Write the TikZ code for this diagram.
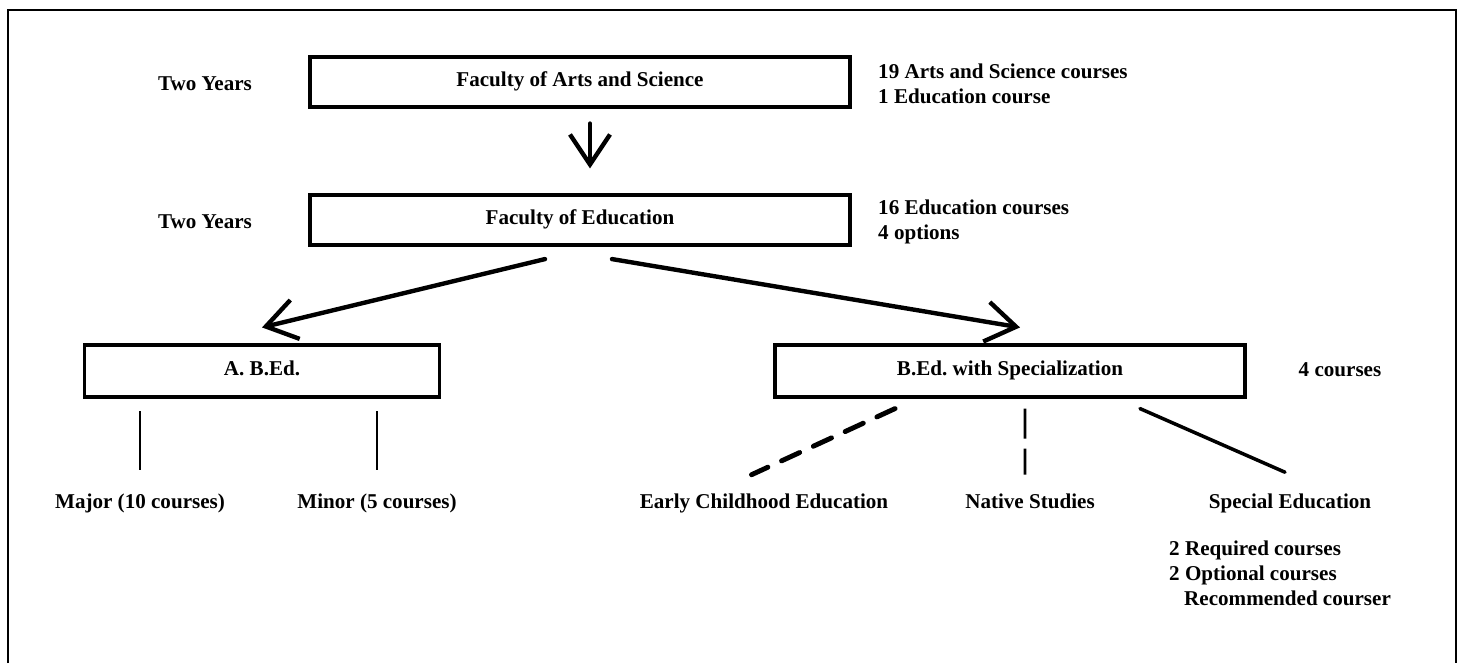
\documentclass[tikz,border=0pt]{standalone}
\usepackage{fontspec}
\setmainfont{Liberation Serif}
\usepackage{tikz}
\usetikzlibrary{positioning}
\usetikzlibrary{arrows.meta}

\tikzset{
    box/.style={draw, rectangle, line width=1.8pt, inner sep=0pt},
    arr/.style={line width=2.5pt, line cap=round, -{Straight Barb[length=0.6cm, width=0.8cm, line width=2.5pt]}},
    ln/.style={line width=1.1pt},
    txt/.style={font=\fontsize{12}{14.2}\selectfont\bfseries},
    lbl/.style={text height=1.55ex, text depth=0.45ex}
}

\begin{document}
\begin{tikzpicture}[x=0.02cm, y=-0.02cm, every node/.style={txt}]
    \useasboundingbox (0,0) rectangle (1463,663);
    \draw[line width=1.4pt] (8,663) -- (8,10) -- (1456,10) -- (1456,663);

    \node (y1) at (205,86) [lbl] {Two Years};
    \node (f1) at (580,82) [box, lbl, minimum width=10.8cm, minimum height=1cm] {Faculty of Arts and Science};
    \node (c1) at (872,84) [anchor=west, align=left] {19 Arts and Science courses\\1 Education course};

    \node (y2) at (205,224) [lbl] {Two Years};
    \node (f2) at (580,220) [box, lbl, minimum width=10.8cm, minimum height=1cm] {Faculty of Education};
    \node (c2) at (872,222) [anchor=west, align=left] {16 Education courses\\4 options};

    \node (a) at (262,371) [box, lbl, minimum width=7.1cm, minimum height=1.04cm] {A. B.Ed.};
    \node (b) at (1010,371) [box, lbl, minimum width=9.4cm, minimum height=1.04cm] {B.Ed.\ with Specialization};
    \node (c3) at (1340,372) [lbl] {4 courses};

    \node (maj) at (140,504) [lbl] {Major (10 courses)};
    \node (min) at (377,504) [lbl] {Minor (5 courses)};
    \node (ece) at (764,504) [lbl] {Early Childhood Education};
    \node (nat) at (1030,504) [lbl] {Native Studies};
    \node (spe) at (1290,504) [lbl] {Special Education};
    \node (c4) at (1163,573) [anchor=west, align=left] {2 Required courses\\2 Optional courses\\\hspace*{0.3cm}Recommended courser};

    \draw[arr] ([xshift=0.2cm,yshift=-0.3cm]f1.south) -- ([xshift=0.2cm,yshift=0.5cm]f2.north);
    \draw[arr] ([xshift=-0.7cm,yshift=-0.25cm]f2.south) -- ([yshift=0.32cm]a.north);
    \draw[arr] ([xshift=0.64cm,yshift=-0.25cm]f2.south) -- ([xshift=0.2cm,yshift=0.32cm]b.north);

    \draw[ln, shorten <=0.25cm, shorten >=0.4cm] (a.south -| maj) -- (maj.north);
    \draw[ln, shorten <=0.25cm, shorten >=0.4cm] (a.south -| min) -- (min.north);

    \draw[line width=2.8pt, line cap=round, dash pattern=on 0.4cm off 0.3cm] ([xshift=-2.3cm,yshift=-0.2cm]b.south) -- ([xshift=-0.25cm,yshift=0.3cm]ece.north);
    \draw[line width=1.5pt, dash pattern=on 0.6cm off 0.2cm] ([xshift=0.3cm,yshift=-0.2cm]b.south) -- ([xshift=-0.1cm,yshift=0.3cm]nat.north);
    \draw[line width=2pt, line cap=round] ([xshift=2.6cm,yshift=-0.2cm]b.south) -- ([xshift=-0.1cm,yshift=0.35cm]spe.north);
\end{tikzpicture}
\end{document}
